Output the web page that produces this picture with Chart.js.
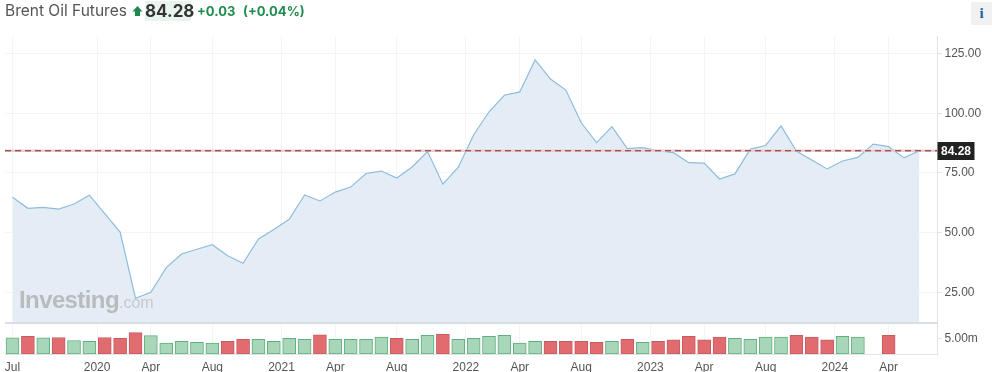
<!DOCTYPE html>
<html><head><meta charset="utf-8">
<style>
html,body{margin:0;padding:0;background:#fff;width:992px;height:372px;overflow:hidden;font-family:Inter,"Liberation Sans",sans-serif}
#wrap{position:relative;width:992px;height:372px}
canvas{position:absolute;left:0;top:0}
.t{position:absolute;white-space:nowrap}
</style></head><body>
<div id="wrap">
<canvas id="c" width="992" height="372"></canvas>
<div class="t" style="left:5px;top:1px;font-size:15.5px;line-height:20px;color:#555">Brent Oil Futures</div>
<svg class="t" style="left:132px;top:5px" width="11" height="12" viewBox="0 0 11 12"><path d="M5.5 1 L10.5 6.5 H8 V11 H3 V6.5 H0.5 Z" fill="#1c8a4a"/></svg>
<div class="t" style="left:145px;top:1px;width:46px;height:20px;background:#e9f4ee;font-size:17px;line-height:20px;font-weight:700;color:#333;text-align:center">84.28</div>
<div class="t" style="left:197px;top:2px;font-size:13px;line-height:19px;font-weight:700;color:#1f8b4c">+0.03</div>
<div class="t" style="left:243px;top:2px;font-size:13px;line-height:19px;font-weight:700;color:#1f8b4c">(+0.04%)</div>
<div class="t" style="left:971px;top:2px;width:21px;height:23px;background:#f1f1f1;font:700 15px/23px 'Liberation Serif',serif;color:#1d5fa8;text-align:center">i</div>
<div class="t" style="left:19px;top:285px;font:700 24px/30px 'Liberation Sans',sans-serif;letter-spacing:-.6px;color:#b9bcbf">Investing<span style="font-weight:400;font-size:16px;letter-spacing:0;color:#c6c9cc">.com</span></div>
</div>
<script src="https://cdn.jsdelivr.net/npm/chart.js@4/dist/chart.umd.min.js"></script>
<script>
const prices = [64.8,60.2,60.6,59.9,62.0,65.7,58.0,50.3,22.6,25.1,35.4,41.1,43.1,45.0,40.4,37.2,47.4,51.4,55.6,65.8,63.3,67.0,69.1,74.8,75.8,72.9,77.5,84.0,70.3,77.4,90.9,100.6,107.5,108.9,122.3,114.3,109.7,96.0,87.7,94.4,85.2,85.6,84.3,83.5,79.3,79.1,72.5,74.6,85.0,86.5,94.7,84.2,80.4,76.7,80.0,81.5,87.1,86.0,81.3,84.28];
const volumes = [5.4,5.9,5.4,5.5,4.5,4.2,5.5,5.2,7.1,6.1,3.6,4.2,3.9,3.6,4.2,4.9,4.9,4.2,5.2,4.9,6.4,4.9,4.9,4.9,5.6,5.2,4.9,6.2,6.6,4.9,5.2,5.9,6.2,3.6,4.2,4.2,4.2,4.2,3.9,4.2,4.9,3.9,4.2,4.7,5.9,4.7,5.6,5.2,4.9,5.6,5.6,6.2,5.6,4.7,5.9,5.6,null,6.2];
const volumeDirs = "grgrggrrrgggggrrggggrggggrggrggggggrrrrgrgrrrrrggggrrrgg-r";
const xTickValues = [0,5.5,9,13,17.5,21,25,29.5,33,37,41.5,45,49,53.5,57];
const xTickLabels = ["Jul","2020","Apr","Aug","2021","Apr","Aug","2022","Apr","Aug","2023","Apr","Aug","2024","Apr"];
const priceTicks = [25,50,75,100,125];
const volumeTicks = [5];
const lastPrice = 84.28;

const xMin = -0.49, xMax = 60.18;
const gridCol = "#f3f4f6", axisCol = "#dfe3ea", textCol = "#555";
const tickFont = {family:"'Liberation Sans',Arial,sans-serif", size:12};

const decorate = {
  id:"decorate",
  afterDraw(ch){
    const c = ch.ctx, a = ch.chartArea, y = ch.scales.y;
    c.save();
    c.strokeStyle = "#d9dde4"; c.lineWidth = 2;
    c.beginPath(); c.moveTo(a.left, y.bottom); c.lineTo(a.right, y.bottom); c.stroke();
    const py = Math.round(y.getPixelForValue(lastPrice));
    c.fillStyle = "#222"; c.fillRect(a.right, py-9, 37, 18);
    c.fillStyle = "#fff"; c.font = "bold 12px 'Liberation Sans',Arial,sans-serif";
    c.textAlign = "center"; c.textBaseline = "middle";
    c.fillText(lastPrice.toFixed(2), a.right+18.5, py+0.5);
    c.restore();
  }
};

new Chart(document.getElementById("c"), {
  data:{datasets:[
    {type:"line", yAxisID:"y", data:prices.map((v,i)=>({x:i,y:v})), borderColor:"#8fbcdd", borderWidth:1.2,
     backgroundColor:"#e4edf5", fill:"origin", pointRadius:0, tension:0, order:3},
    {type:"line", yAxisID:"y", data:[{x:xMin,y:lastPrice},{x:xMax,y:lastPrice}], borderColor:"#f5c9c9", borderWidth:2.5, pointRadius:0, fill:false, order:2},
    {type:"line", yAxisID:"y", data:[{x:xMin,y:lastPrice},{x:xMax,y:lastPrice}], borderColor:"#5c3338", borderWidth:1, borderDash:[6,4], pointRadius:0, fill:false, order:1},
    {type:"bar", yAxisID:"v", data:volumes.map((v,i)=>({x:i,y:v})), barThickness:13,
     backgroundColor:volumes.map((v,i)=>volumeDirs[i]==="r"?"#e06c70":"#a8d6b9"),
     borderColor:volumes.map((v,i)=>volumeDirs[i]==="r"?"#c65c60":"#5fae7d"),
     borderWidth:1, borderSkipped:false, order:4}
  ]},
  options:{
    responsive:false, animation:false, events:[],
    layout:{padding:{top:36,left:5,right:0,bottom:0}},
    plugins:{legend:{display:false},tooltip:{enabled:false}},
    scales:{
      x:{type:"linear",position:"bottom",min:xMin,max:xMax,offset:false,
        afterBuildTicks(s){s.ticks=xTickValues.map(v=>({value:v}));},
        afterFit(s){s.height=18;s.paddingLeft=0;s.paddingRight=0;},
        grid:{color:gridCol,drawTicks:false,offset:false},border:{color:axisCol},
        ticks:{autoSkip:false,maxRotation:0,minRotation:0,color:textCol,font:tickFont,padding:6,
          callback(v){const i=xTickValues.indexOf(v);return i<0?"":xTickLabels[i];}}},
      y:{type:"linear",position:"right",stack:"s",stackWeight:287,min:12.24,max:132.3,
        afterBuildTicks(s){s.ticks=priceTicks.map(v=>({value:v}));},
        afterFit(s){s.width=54.5;},
        grid:{color:gridCol,tickColor:axisCol,tickLength:4},border:{color:axisCol},
        ticks:{color:textCol,font:tickFont,padding:3,callback:v=>v.toFixed(2)}},
      v:{type:"linear",position:"right",stack:"s",stackWeight:31,min:0,max:10.33,
        afterBuildTicks(s){s.ticks=volumeTicks.map(v=>({value:v}));},
        afterFit(s){s.width=54.5;},
        grid:{drawOnChartArea:false,tickColor:axisCol,tickLength:4},border:{color:axisCol},
        ticks:{color:textCol,font:tickFont,padding:3,callback:v=>v.toFixed(2)+"m"}}
    }
  },
  plugins:[decorate]
});
</script>
</body></html>
